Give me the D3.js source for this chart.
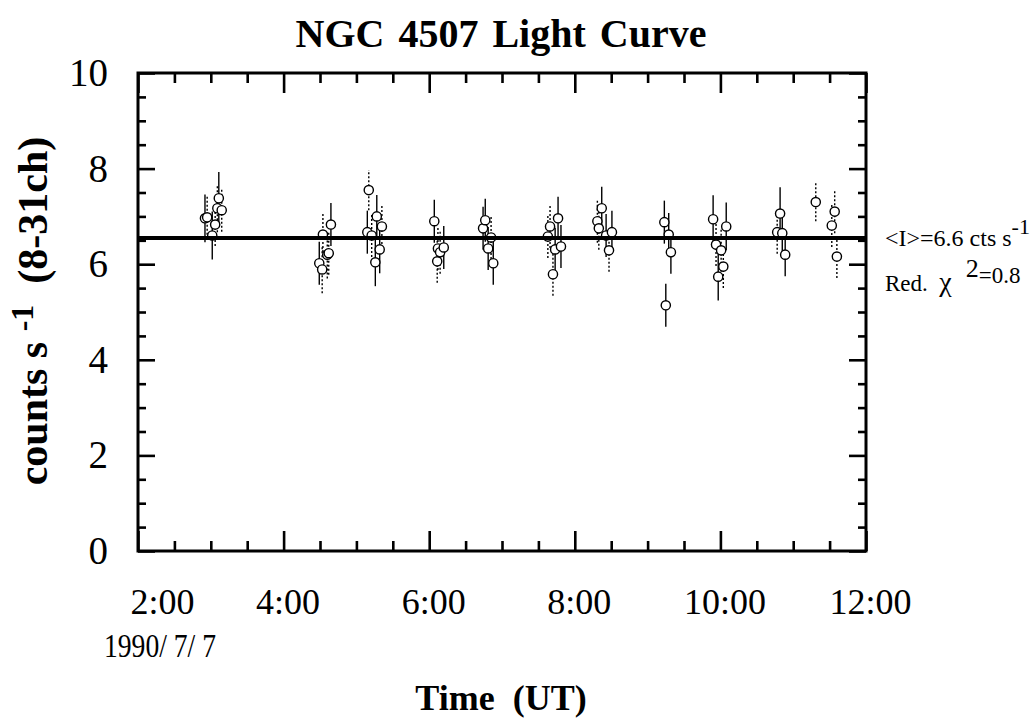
<!DOCTYPE html>
<html>
<head>
<meta charset="utf-8">
<script src="https://cdn.jsdelivr.net/npm/d3@7"></script>
<style>
body { margin: 0; background: #fff; }
text { font-family: "Liberation Serif", "Times New Roman", serif; fill: #000; white-space: pre; }
</style>
</head>
<body>
<svg></svg>
<script>
var width = 1031;
var height = 723;
var margin = {'top': 73, 'right': 165, 'bottom': 172, 'left': 138};

// time in hours UT on 1990/7/7, rate in counts/s, 1 = dotted error bar
var times = [2.92,2.95,3.02,3.06,3.09,3.11,3.15,
    4.49,4.53,4.54,4.60,4.62,4.65,
    5.15,5.17,5.21,5.26,5.28,5.32,5.35,
    6.07,6.11,6.12,6.15,6.20,
    6.74,6.77,6.81,6.85,6.88,
    7.63,7.66,7.70,7.73,7.77,7.81,
    8.31,8.33,8.37,8.43,8.47,8.51,
    9.23,9.25,9.29,9.32,
    9.90,9.94,9.97,10.01,10.04,10.08,
    10.78,10.82,10.85,10.89,
    11.31,11.53,11.57,11.60];
var rates = [6.96,6.98,6.60,6.83,7.17,7.38,7.13,
    6.02,5.89,6.62,6.20,6.23,6.83,
    6.67,7.55,6.60,6.04,7.00,6.31,6.79,
    6.90,6.06,6.33,6.25,6.35,
    6.75,6.92,6.33,6.56,6.02,
    6.58,6.79,5.79,6.31,6.96,6.37,
    6.90,6.75,7.17,6.60,6.29,6.67,
    6.88,5.14,6.62,6.25,
    6.94,6.41,5.74,6.29,5.95,6.79,
    6.67,7.06,6.65,6.20,
    7.30,6.81,7.10,6.16];
var errs = [0.5,0.45,0.5,0.45,0.5,0.55,0.45,
    0.45,0.5,0.45,0.5,0.45,0.45,
    0.45,0.42,0.45,0.5,0.45,0.5,0.45,
    0.45,0.45,0.45,0.45,0.45,
    0.45,0.45,0.45,0.45,0.45,
    0.45,0.45,0.45,0.45,0.45,0.45,
    0.45,0.45,0.45,0.45,0.45,0.45,
    0.45,0.45,0.45,0.45,
    0.5,0.45,0.5,0.45,0.45,0.5,
    0.45,0.55,0.45,0.45,
    0.4,0.45,0.45,0.45];
var dotted = [0,1,0,1,1,0,1,
    0,1,1,1,1,0,
    0,1,1,0,0,0,1,
    0,1,1,1,0,
    0,0,0,1,0,
    1,1,1,0,0,0,
    1,1,0,0,1,0,
    0,0,0,0,
    0,1,0,1,1,0,
    1,0,0,0,
    1,1,1,1];

var meanRate = 6.55;
var xTicks = [2,4,6,8,10,12];
var xMinor = d3.range(2.5, 12, 0.5).filter(d => d % 2 != 0);
var yTicks = [0,2,4,6,8,10];
var yMinor = d3.range(0.5, 10, 0.5).filter(d => d % 2 != 0);

var data = times.map((t, i) => ({t: t, v: rates[i], e: errs[i], dot: dotted[i]}));

var w = width - margin.left - margin.right;
var h = height - margin.top - margin.bottom;

var x = d3.scaleLinear().domain([2, 12]).range([0, w]);
var y = d3.scaleLinear().domain([0, 10]).range([h, 0]);

const svg = d3.select('svg')
    .attr('width', width)
    .attr('height', height);

const g = svg.append('g')
    .attr('transform', `translate(${margin.left},${margin.top})`);

// tick marks, all pointing inward
function ticks(axis, vals, len, tx, ty) {
    g.append('g')
        .attr('transform', `translate(${tx},${ty})`)
        .call(axis.tickValues(vals).tickSize(-len).tickSizeOuter(0).tickFormat(''))
        .call(s => s.select('.domain').remove())
        .call(s => s.selectAll('line').attr('stroke', '#000').attr('stroke-width', 2.6));
}
ticks(d3.axisBottom(x), xTicks, 20, 0, h);
ticks(d3.axisBottom(x), xMinor, 10, 0, h);
ticks(d3.axisTop(x), xTicks, 20, 0, 0);
ticks(d3.axisTop(x), xMinor, 10, 0, 0);
ticks(d3.axisLeft(y), yTicks, 17, 0, 0);
ticks(d3.axisLeft(y), yMinor, 8, 0, 0);
ticks(d3.axisRight(y), yTicks, 17, w, 0);
ticks(d3.axisRight(y), yMinor, 8, w, 0);

g.append('rect')
    .attr('width', w)
    .attr('height', h)
    .attr('fill', 'none')
    .attr('stroke', '#000')
    .attr('stroke-width', 3);

// tick labels
g.append('g')
    .attr('transform', `translate(0,${h})`)
    .call(d3.axisBottom(x).tickValues(xTicks).tickSize(0).tickPadding(37).tickFormat(d => d + ':00'))
    .call(s => s.select('.domain').remove())
    .call(s => s.selectAll('text').attr('font-size', 36).attr('font-family', null)
        .attr('dx', d => d == 2 ? 24 : 4));

g.append('g')
    .call(d3.axisLeft(y).tickValues(yTicks).tickSize(0).tickPadding(30))
    .call(s => s.select('.domain').remove())
    .call(s => s.selectAll('text').attr('font-size', 39).attr('font-family', null));

svg.append('text')
    .attr('x', 104).attr('y', 657)
    .attr('font-size', 34)
    .attr('textLength', 112)
    .attr('lengthAdjust', 'spacingAndGlyphs')
    .text('1990/ 7/ 7');

// error bars
g.append('g')
    .selectAll('line')
    .data(data)
    .join('line')
    .attr('x1', d => x(d.t)).attr('x2', d => x(d.t))
    .attr('y1', d => y(d.v - d.e)).attr('y2', d => y(d.v + d.e))
    .attr('stroke', '#000')
    .attr('stroke-width', 1.4)
    .attr('stroke-dasharray', d => d.dot ? '2,2' : null);

g.append('g')
    .selectAll('circle')
    .data(data)
    .join('circle')
    .attr('cx', d => x(d.t))
    .attr('cy', d => y(d.v))
    .attr('r', 4.6)
    .attr('fill', '#fff')
    .attr('stroke', '#000')
    .attr('stroke-width', 1.4);

// mean level
g.append('line')
    .attr('x1', 0).attr('x2', w)
    .attr('y1', y(meanRate)).attr('y2', y(meanRate))
    .attr('stroke', '#000')
    .attr('stroke-width', 4);

// titles
svg.append('text')
    .attr('x', 501).attr('y', 47)
    .attr('text-anchor', 'middle')
    .attr('font-size', 40)
    .attr('font-weight', 'bold')
    .attr('word-spacing', 4)
    .text('NGC 4507 Light Curve');

svg.append('text')
    .attr('x', 501).attr('y', 710)
    .attr('text-anchor', 'middle')
    .attr('font-size', 36)
    .attr('font-weight', 'bold')
    .text('Time  (UT)');

const yl = svg.append('text')
    .attr('transform', 'translate(47,311) rotate(-90)')
    .attr('text-anchor', 'middle')
    .attr('font-size', 42)
    .attr('font-weight', 'bold');
yl.append('tspan').text('counts s ');
yl.append('tspan').attr('dy', -14).attr('font-size', 32).text('-1');
yl.append('tspan').attr('dy', 14).text('  (8-31ch)');

// fit annotations
const a1 = svg.append('text')
    .attr('x', 885).attr('y', 246)
    .attr('font-size', 24);
a1.append('tspan').text('<I>=6.6 cts s');
a1.append('tspan').attr('dy', -12).attr('font-size', 22).text('-1');

const a2 = svg.append('text')
    .attr('x', 885).attr('y', 291)
    .attr('font-size', 23);
a2.append('tspan').text('Red.  ');
a2.append('tspan').attr('font-size', 28).text('χ  ');
a2.append('tspan').attr('dy', -14).attr('font-size', 26).text('2');
a2.append('tspan').attr('dy', 6).text('=0.8');
</script>
</body>
</html>
